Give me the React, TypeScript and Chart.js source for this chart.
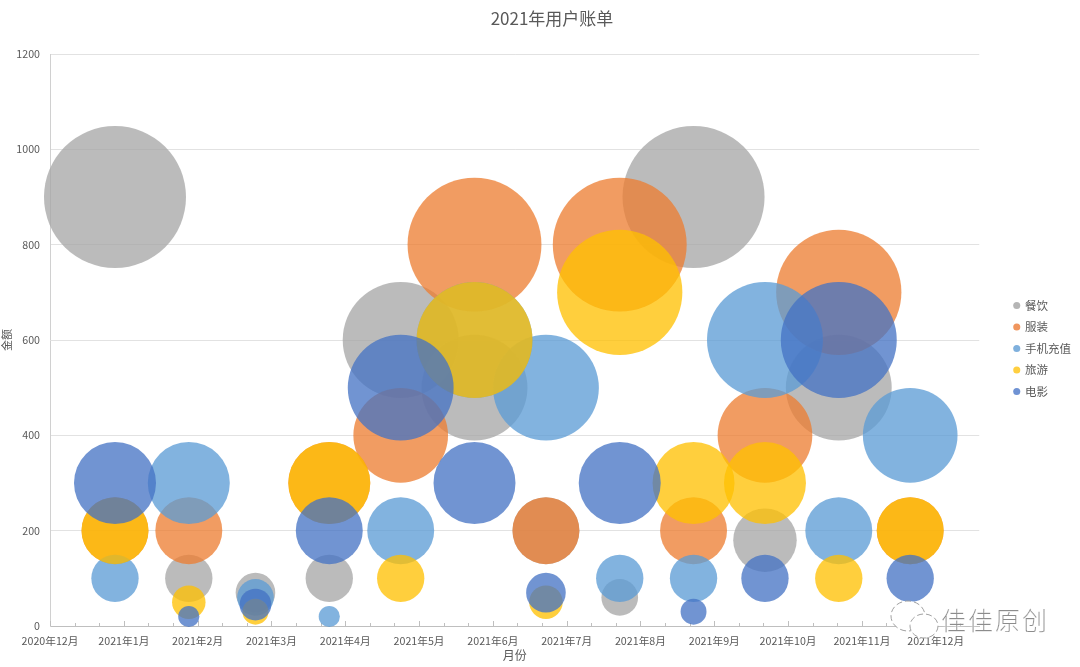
import React, { useEffect, useRef } from "react";
import { Chart, registerables } from "chart.js";

Chart.register(...registerables);

const FONT = '"Noto Sans CJK SC", "Noto Sans", sans-serif';

const tickLabels = ["2020年12月", "2021年1月", "2021年2月", "2021年3月", "2021年4月", "2021年5月", "2021年6月", "2021年7月", "2021年8月", "2021年9月", "2021年10月", "2021年11月", "2021年12月"];
const monthDays = [0, 31, 59, 90, 120, 151, 181, 212, 243, 273, 304, 334];

const dining = [900, 100, 70, 100, 600, 500, 200, 60, 900, 180, 500, null];
const clothing = [200, 200, null, 300, 400, 800, 200, 800, 200, 400, 700, 200];
const phone = [100, 300, 60, 20, 200, 600, 500, 100, 100, 600, 200, 400];
const travel = [200, 50, 30, 300, 100, 600, 50, 700, 300, 300, 100, 200];
const movie = [300, 20, 45, 200, 500, 300, 70, 300, 30, 100, 600, 100];

const seriesNames = ["餐饮", "服装", "手机充值", "旅游", "电影"];
const seriesValues = [dining, clothing, phone, travel, movie];
const seriesColors = ["rgba(165,165,165,0.76)", "rgba(237,125,49,0.76)", "rgba(91,155,213,0.76)", "rgba(255,192,0,0.76)", "rgba(68,114,196,0.76)"];
const legendColors = ["#B5B5B5", "#F0965E", "#7FB0DD", "#FFCF40", "#6F92D3"];

const AXIS_MIN = -27.3;
const AXIS_MAX = 363;
const MAJOR_DAYS = 31;
const RADIUS_PER_ROOT = 2.367;

const inwardTicks = {
  id: "inwardTicks",
  beforeDatasetsDraw(chart: any) {
    const { ctx, scales } = chart;
    const x = scales.x;
    ctx.save();
    ctx.strokeStyle = "#BFBFBF";
    ctx.lineWidth = 1;
    x.ticks.forEach((t: any, i: number) => {
      const px = Math.round(x.getPixelForValue(t.value)) + 0.5;
      ctx.beginPath();
      ctx.moveTo(px, x.top);
      ctx.lineTo(px, x.top - (i % 3 === 0 ? 5 : 3));
      ctx.stroke();
    });
    ctx.restore();
  },
};

const placeBoxes = {
  id: "placeBoxes",
  afterLayout(chart: any) {
    const lg = chart.legend;
    lg.left = 1081 - lg.width;
    lg.right = 1081;
    lg.top += 15;
    lg.bottom += 15;
    const tb = chart.titleBlock;
    tb.left += 24;
    tb.right += 24;
  },
};

export default function App() {
  const ref = useRef<HTMLCanvasElement>(null);
  useEffect(() => {
    const chart = new Chart(ref.current as HTMLCanvasElement, {
      type: "bubble",
      plugins: [inwardTicks, placeBoxes],
      data: {
        datasets: seriesNames.map((name, i) => ({
          label: name,
          order: seriesNames.length - i,
          clip: false,
          backgroundColor: seriesColors[i],
          borderWidth: 0,
          hoverBorderWidth: 0,
          data: seriesValues[i]
            .map((v, m) => (v === null ? null : { x: monthDays[m], y: v, r: RADIUS_PER_ROOT * Math.sqrt(v as number) }))
            .filter(Boolean),
        })),
      } as any,
      options: {
        responsive: false,
        animation: false,
        layout: { autoPadding: false, padding: { left: 0, right: 24, top: 0, bottom: 0 } },
        plugins: {
          title: {
            display: true,
            text: "2021年用户账单",
            color: "#595959",
            font: { family: FONT, size: 17, weight: "normal" },
            padding: { top: 8, bottom: 25.6 },
          },
          legend: {
            position: "right",
            labels: {
              usePointStyle: true,
              pointStyle: "circle",
              boxWidth: 5,
              boxHeight: 5,
              padding: 10,
              color: "#595959",
              font: { family: FONT, size: 11.5 },
              generateLabels: () =>
                seriesNames.map((name, i) => ({
                  text: name,
                  fillStyle: legendColors[i],
                  strokeStyle: legendColors[i],
                  lineWidth: 0,
                  pointStyle: "circle",
                  datasetIndex: i,
                  fontColor: "#595959",
                })),
            },
          },
          tooltip: { enabled: false },
        },
        scales: {
          x: {
            type: "linear",
            min: AXIS_MIN,
            max: AXIS_MAX,
            afterFit: (s: any) => {
              s.height = 41;
            },
            afterBuildTicks: (s: any) => {
              const out = [];
              for (let k = 0; AXIS_MIN + (k * MAJOR_DAYS) / 3 <= AXIS_MAX; k++) {
                out.push({ value: AXIS_MIN + (k * MAJOR_DAYS) / 3 });
              }
              s.ticks = out;
            },
            grid: { display: false, drawTicks: false },
            border: { color: "#BFBFBF" },
            ticks: {
              autoSkip: false,
              maxRotation: 0,
              minRotation: 0,
              padding: 9,
              color: "#595959",
              font: { family: FONT, size: 10.7 },
              callback: (_v: any, i: number) => (i % 3 === 0 ? tickLabels[i / 3] ?? "" : ""),
            },
            title: {
              display: true,
              text: "月份",
              color: "#595959",
              font: { family: FONT, size: 12 },
              padding: { top: 0, bottom: 4 },
            },
          },
          y: {
            min: 0,
            max: 1200,
            afterFit: (s: any) => {
              s.width = 50;
            },
            grid: { color: "#E2E2E2", drawTicks: false },
            border: { color: "#D0D0D0" },
            ticks: {
              stepSize: 200,
              padding: 10,
              color: "#595959",
              font: { family: FONT, size: 10.7 },
              callback: (v: any) => String(v),
            },
            title: {
              display: true,
              text: "金额",
              color: "#595959",
              font: { family: FONT, size: 11 },
              padding: { top: 0, bottom: 0 },
            },
          },
        },
      } as any,
    });
    return () => chart.destroy();
  }, []);

  return (
    <div style={{ position: "fixed", left: 0, top: 0, width: 1080, height: 667, background: "#fff", overflow: "hidden" }}>
      <canvas ref={ref} width={1080} height={667} style={{ display: "block" }} />
      <svg width={62} height={50} style={{ position: "absolute", left: 888, top: 598 }}>
        <ellipse cx={20} cy={18} rx={17} ry={15} fill="#fff" stroke="#A0A0A0" strokeWidth={1} strokeDasharray="6 3" />
        <ellipse cx={36} cy={28} rx={14} ry={12} fill="#fff" stroke="#A0A0A0" strokeWidth={1} strokeDasharray="6 3" />
      </svg>
      <div
        style={{
          position: "absolute",
          left: 941,
          top: 603,
          fontFamily: FONT,
          fontSize: 25,
          fontWeight: 300,
          letterSpacing: 2,
          lineHeight: "32px",
          color: "#8C8C8C",
          WebkitTextStroke: "0.2px #fff",
          textShadow: "0 0 3px #fff",
          whiteSpace: "nowrap",
        }}
      >
        佳佳原创
      </div>
    </div>
  );
}
